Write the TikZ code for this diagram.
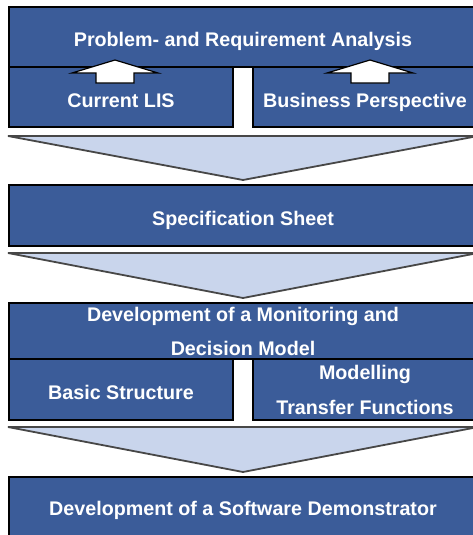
\documentclass[tikz,border=0pt]{standalone}
\usepackage{fontspec}
\setmainfont{Liberation Sans}
\definecolor{boxblue}{HTML}{3B5C99}
\definecolor{chevfill}{HTML}{C9D5EC}
\definecolor{chevline}{HTML}{474747}
\tikzset{
  stage/.style={draw=black, line width=1.5pt, fill=boxblue, text=white, inner sep=0pt,
    font=\bfseries\fontsize{19.7}{22}\selectfont, align=center},
  oneline/.style={text height=20pt, text depth=0pt},
  chevron/.style={draw=chevline, line width=1.8pt, fill=chevfill, line join=miter},
  liftarrow/.style={draw=black, line width=1.2pt, fill=white, line join=miter}
}
\newcommand{\chevronat}[2]{% top y, tip y
  \draw[chevron] (8,#1) -- (478,#1) -- (243,#2) -- cycle;}
\newcommand{\liftat}[1]{% centre x
  \draw[liftarrow] (#1-19,83) -- (#1-19,73) -- (#1-43,73) -- (#1,60) -- (#1+43,73)
    -- (#1+19,73) -- (#1+19,83) -- cycle;}
\begin{document}
\begin{tikzpicture}[x=1pt,y=-1pt]
\clip (0,0) rectangle (473,535);
\fill[white] (0,0) rectangle (473,535);

% Analysis block
\node[stage, oneline, minimum width=468pt, minimum height=60pt] (analysis) at (243,37) {Problem- and Requirement Analysis};
\node[stage, oneline, minimum width=224pt, minimum height=60pt] (lis) at (121,97) {Current LIS};
\node[stage, oneline, minimum width=224pt, minimum height=60pt] (business) at (365,97) {Business Perspective};
\liftat{115}
\liftat{370}

\chevronat{136}{180}

% Specification
\node[stage, oneline, minimum width=468pt, minimum height=61pt] (spec) at (243,215.5) {Specification Sheet};

\chevronat{253}{298}

% Model block
\node[stage, minimum width=468pt, minimum height=56pt, font=\bfseries\fontsize{19.7}{34}\selectfont] (model) at (243,331) {Development of a Monitoring and\\Decision Model};
\node[stage, oneline, minimum width=224pt, minimum height=61pt] (basic) at (121,389.5) {Basic Structure};
\node[stage, minimum width=224pt, minimum height=61pt, font=\bfseries\fontsize{19.7}{35}\selectfont] (transfer) at (365,389.5) {Modelling\\Transfer Functions};

\chevronat{427}{472}

% Demonstrator
\node[stage, text height=14pt, text depth=6pt, minimum width=468pt, minimum height=68pt] (demo) at (243,511) {Development of a Software Demonstrator};

\end{tikzpicture}
\end{document}
